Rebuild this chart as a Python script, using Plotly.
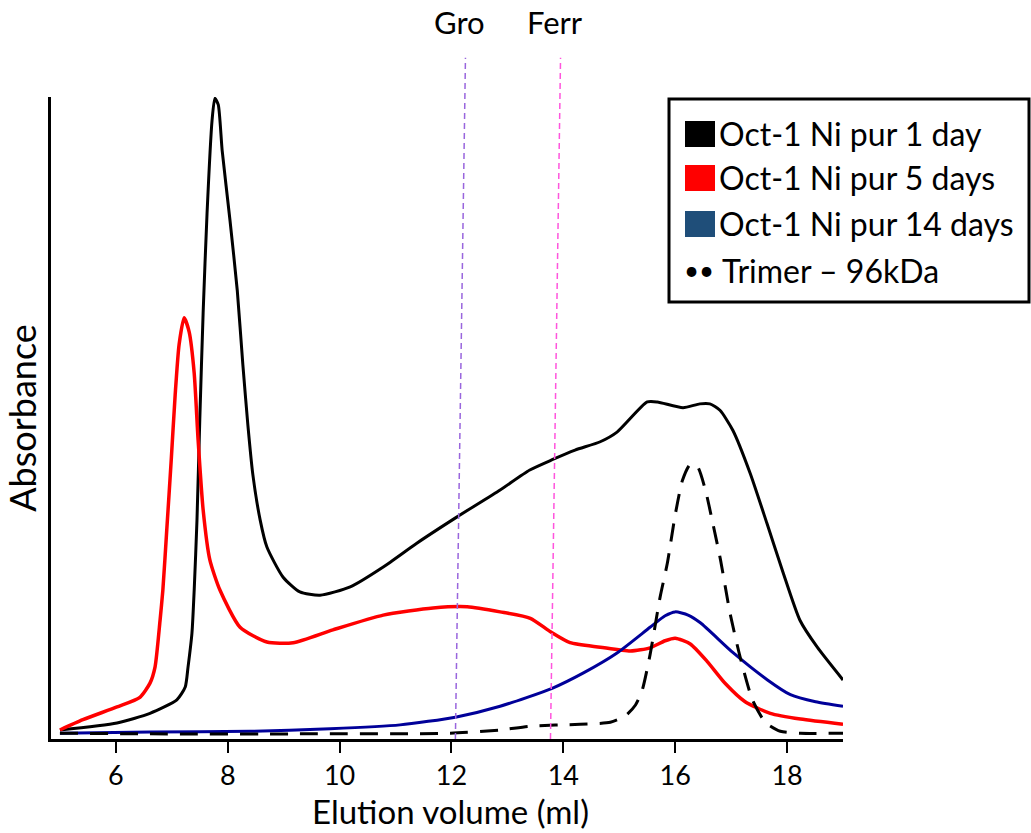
import plotly.graph_objects as go

# ---------------- data ----------------
x_1day = [5.0, 6.02, 6.61, 7.09, 7.24, 7.29, 7.36, 7.40, 7.45, 7.50, 7.56, 7.63, 7.72, 7.77, 7.83,
          7.90, 8.04, 8.17, 8.27, 8.36, 8.45, 8.58, 8.70, 8.99, 9.29, 9.65, 10.19, 10.78, 11.38,
          12.10, 12.87, 13.40, 13.80, 14.21, 14.66, 14.96, 15.50, 15.68, 16.14, 16.44, 16.62,
          16.80, 17.03, 17.34, 17.64, 17.93, 18.23, 18.54, 19.0]
y_1day = [1.4, 2.5, 4.0, 6.1, 8.1, 11.2, 16.5, 23.2, 34.1, 49.7, 66.4, 81.9, 96.4, 99.8, 98.8,
          91.7, 80.8, 69.9, 58.3, 48.9, 41.1, 34.1, 29.9, 25.2, 22.9, 22.4, 23.7, 26.8, 30.5,
          34.6, 38.8, 41.9, 43.5, 45.0, 46.3, 47.8, 52.5, 52.5, 51.6, 52.2, 52.2,
          51.2, 48.1, 41.4, 33.6, 25.9, 18.5, 14.3, 9.2]

x_5days = [5.0, 5.41, 6.02, 6.43, 6.61, 6.70, 6.79, 6.84, 6.91, 6.99, 7.06, 7.13, 7.22, 7.31, 7.40,
           7.47, 7.56, 7.68, 7.86, 8.22, 8.70, 9.17, 9.88, 10.78, 11.67, 12.28, 12.87, 13.41, 13.77,
           14.12, 14.66, 15.20, 15.55, 15.82, 16.00, 16.27, 16.57, 16.90, 17.25, 17.70, 18.24, 19.0]
y_5days = [1.4, 3.0, 5.0, 6.5, 8.7, 11.2, 18.5, 23.2, 32.6, 43.5, 53.6, 61.4, 65.6, 63.4, 57.0,
           46.6, 35.7, 27.9, 23.2, 17.4, 15.1, 15.0, 17.0, 19.3, 20.4, 20.6, 19.8, 18.8, 16.7,
           15.0, 14.3, 13.7, 14.2, 15.3, 15.7, 14.8, 12.1, 8.6, 5.8, 4.0, 3.1, 2.3]

x_14days = [5.0, 6.61, 8.40, 9.83, 11.08, 12.07, 12.87, 13.80, 14.36, 14.96, 15.55, 15.82, 16.00,
            16.23, 16.45, 17.04, 17.65, 18.06, 18.51, 19.0]
y_14days = [0.9, 1.1, 1.2, 1.6, 2.2, 3.4, 5.1, 7.9, 10.3, 13.4, 17.4, 19.2, 19.8,
            19.3, 18.1, 13.4, 9.2, 6.9, 5.8, 5.1]

x_trimer = [5.0, 6.61, 9.29, 11.98, 12.87, 13.41, 14.30, 14.84, 15.11, 15.29, 15.41, 15.55, 15.73,
            15.86, 16.00, 16.13, 16.27, 16.40, 16.54, 16.66, 16.81, 16.98, 17.16, 17.38, 17.61,
            17.88, 18.24, 19.0]
y_trimer = [0.9, 0.8, 0.8, 0.9, 1.4, 2.0, 2.3, 2.6, 3.6, 5.3, 7.6, 13.1, 22.1,
            27.4, 34.9, 40.3, 42.8, 42.4, 38.8, 34.1, 27.9, 19.6, 12.8, 6.1, 2.6,
            1.2, 0.9, 0.9]

marker_names = ["Gro", "Ferr"]
marker_volumes = [12.07, 13.77]

series_names = ["Oct-1 Ni pur 1 day", "Oct-1 Ni pur 5 days", "Oct-1 Ni pur 14 days", "Trimer \u2013 96kDa"]
x_ticks = [6, 8, 10, 12, 14, 16, 18]
x_title = "Elution volume (ml)"
y_title = "Absorbance"

# ---------------- figure ----------------
FONT = "Lato"
fig = go.Figure()

fig.add_trace(go.Scatter(x=x_1day, y=y_1day, mode="lines", line=dict(color="#000000", width=3, shape="spline", smoothing=0.6), showlegend=False))
fig.add_trace(go.Scatter(x=x_5days, y=y_5days, mode="lines", line=dict(color="#ff0000", width=3.5, shape="spline", smoothing=0.6), showlegend=False))
fig.add_trace(go.Scatter(x=x_14days, y=y_14days, mode="lines", line=dict(color="#000099", width=3, shape="spline", smoothing=0.6), showlegend=False))
fig.add_trace(go.Scatter(x=x_trimer, y=y_trimer, mode="lines", line=dict(color="#000000", width=3, dash="18px,12px", shape="spline", smoothing=0.6), showlegend=False))

shapes = []
annotations = []
marker_colors = ["#9966dd", "#ff55dd"]
for name, vol, col in zip(marker_names, marker_volumes, marker_colors):
    shapes.append(dict(type="line", xref="x", yref="paper", x0=vol, x1=vol + 0.18, y0=0, y1=1.061,
                       line=dict(color=col, width=1.5, dash="6px,4px")))
    annotations.append(dict(x=vol + 0.08, y=1.117, xref="x", yref="paper", text=name, showarrow=False,
                            font=dict(family=FONT, size=31, color="#000000"), xanchor="center", yanchor="middle"))

# manual legend (paper coords: plot area px x 51..843, y 97..739)
def px(xp):
    return (xp - 51) / 792.0

def py(yp):
    return (739 - yp) / 642.0

shapes.append(dict(type="rect", xref="paper", yref="paper", x0=px(669), x1=px(1029), y0=py(99), y1=py(302),
                   line=dict(color="#000000", width=3), fillcolor="#ffffff", layer="above"))
legend_colors = ["#000000", "#ff0000", "#1f4e79"]
row_y = [134, 178, 224, 270]
for i, (name, ry) in enumerate(zip(series_names, row_y)):
    if i < 3:
        shapes.append(dict(type="rect", xref="paper", yref="paper", x0=px(685), x1=px(715), y0=py(ry - 13), y1=py(ry + 13),
                           line=dict(width=0), fillcolor=legend_colors[i], layer="above"))
        tx = 717
    else:
        annotations.append(dict(x=px(682), y=py(ry), xref="paper", yref="paper", text="\u2022\u2022", showarrow=False,
                                font=dict(family=FONT, size=26, color="#000000"), xanchor="left", yanchor="middle"))
        tx = 720
    annotations.append(dict(x=px(tx), y=py(ry), xref="paper", yref="paper", text=name, showarrow=False,
                            font=dict(family=FONT, size=32, color="#000000"), xanchor="left", yanchor="middle"))

# axis title (x) as annotation for exact placement
annotations.append(dict(x=px(450), y=py(811), xref="paper", yref="paper", text=x_title, showarrow=False,
                        font=dict(family=FONT, size=33, color="#000000"), xanchor="center", yanchor="middle"))

fig.update_layout(
    width=1031, height=833,
    margin=dict(l=51, r=188, t=97, b=94),
    paper_bgcolor="#ffffff", plot_bgcolor="#ffffff",
    shapes=shapes, annotations=annotations,
    showlegend=False,
    xaxis=dict(range=[4.84, 19.0], tickvals=x_ticks, ticks="outside", ticklen=11, tickwidth=2, tickcolor="#000000",
               showline=True, linecolor="#000000", linewidth=2.5, showgrid=False, zeroline=False,
               tickfont=dict(family=FONT, size=27, color="#000000")),
    yaxis=dict(range=[0, 100], showticklabels=False, ticks="", showline=True, linecolor="#000000", linewidth=2.5,
               showgrid=False, zeroline=False,
               title=dict(text=y_title, font=dict(family=FONT, size=36, color="#000000"), standoff=4)),
)

fig.write_html("out.html")
